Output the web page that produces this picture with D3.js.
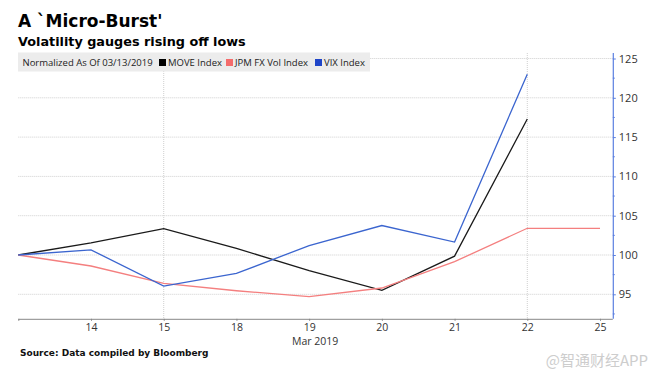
<!DOCTYPE html>
<html><head><meta charset="utf-8">
<script src="https://cdn.jsdelivr.net/npm/d3@7"></script>
<style>body{margin:0;background:#fff}svg{display:block}</style>
</head><body>
<svg id="c" width="657" height="382"></svg>
<script>
const dates = ["13","14","15","18","19","20","21","22","25"];
const moveIdx = [100,101.55,103.35,100.85,98.0,95.5,99.85,117.3,null];
const jpmIdx  = [100,98.6,96.4,95.45,94.7,95.8,99.15,103.4,103.4];
const vixIdx  = [100,100.65,96.05,97.65,101.2,103.75,101.65,123.0,null];
const yTicks = [95,100,105,110,115,120,125];
const weekGrid = ["15","22"];
const series = [
  {name:"MOVE Index", color:"#1a1a1a", key:"#000", values:moveIdx},
  {name:"JPM FX Vol Index", color:"#f47f7f", key:"#f46c6c", values:jpmIdx},
  {name:"VIX Index", color:"#3b65cf", key:"#1f45c8", values:vixIdx}
];

const svg = d3.select("#c");
const L = 18.3, R = 612.8, T = 53, B = 318.8;
const x = d3.scalePoint().domain(dates).range([L, 600]);
const y = d3.scaleLinear().domain([100 - (B-255)/7.86, 100 + (255-T)/7.86]).range([B, T]);

// horizontal grid
svg.append("g").selectAll("line").data(yTicks).join("line")
  .attr("x1", L).attr("x2", R).attr("y1", d=>y(d)).attr("y2", d=>y(d))
  .attr("stroke", "#cfcfcf").attr("stroke-width", 1).attr("stroke-dasharray", "1,1");
// vertical grid
svg.append("g").selectAll("line").data(weekGrid).join("line")
  .attr("x1", d=>x(d)).attr("x2", d=>x(d)).attr("y1", T).attr("y2", B)
  .attr("stroke", "#cfcfcf").attr("stroke-width", 1).attr("stroke-dasharray", "1,1");

// x axis
const xa = svg.append("g").attr("transform", `translate(0,${B})`)
  .call(d3.axisBottom(x).tickSize(2).tickPadding(3).tickFormat(d => d === "13" ? "" : d));
xa.select(".domain").attr("stroke", "#888").attr("d", `M${L},0.5H${R}`);
xa.selectAll(".tick line").attr("stroke", "#888");
xa.selectAll("text").attr("dy", "0.68em").attr("font-family", "Open Sans, sans-serif")
  .attr("font-size", 10.5).attr("fill", "#333");
svg.append("text").attr("x", x("19") + 6).attr("y", 344.5).attr("text-anchor", "middle")
  .attr("font-family", "Open Sans, sans-serif").attr("font-size", 10.5).attr("fill", "#333").text("Mar 2019");

// y axis right
const ya = svg.append("g").attr("transform", `translate(${R},0)`)
  .call(d3.axisRight(y).tickValues(yTicks).tickSize(3).tickPadding(3));
ya.select(".domain").attr("stroke", "#5b7fe0").attr("stroke-width", 1.2).attr("d", `M0.5,${T}V${B}`);
ya.selectAll(".tick line").attr("stroke", "#5b7fe0");
ya.selectAll("text").attr("font-family", "Open Sans, sans-serif").attr("font-size", 11).attr("fill", "#333");
const minor = d3.range(92.5, 126, 5);
svg.append("g").selectAll("line").data(minor).join("line")
  .attr("x1", R).attr("x2", R+2).attr("y1", d=>y(d)).attr("y2", d=>y(d)).attr("stroke", "#5b7fe0");

// lines
const line = d3.line().defined(d => d.v != null).x(d => x(d.d)).y(d => y(d.v));
series.forEach(s => {
  svg.append("path").datum(dates.map((d,i)=>({d, v:s.values[i]})))
    .attr("d", line).attr("fill", "none").attr("stroke", s.color).attr("stroke-width", 1.3)
    .attr("stroke-linejoin", "miter");
});

// legend box
svg.append("rect").attr("x", 18).attr("y", 52.5).attr("width", 352).attr("height", 19).attr("fill", "#ececec");
const lf = "Open Sans, sans-serif";
svg.append("text").attr("x", 22.5).attr("y", 66).attr("font-family", lf).attr("font-size", 9.5).attr("fill", "#222")
  .text("Normalized As Of 03/13/2019");
const legX = [159, 226, 315];
series.forEach((s,i) => {
  svg.append("rect").attr("x", legX[i]).attr("y", 59).attr("width", 7).attr("height", 7).attr("fill", s.key);
  svg.append("text").attr("x", legX[i] + 9).attr("y", 66).attr("font-family", lf).attr("font-size", 9.5).attr("fill", "#222").text(s.name);
});

// titles
svg.append("text").attr("x", 18).attr("y", 27).attr("font-family", "DejaVu Sans, Verdana, sans-serif")
  .attr("font-weight", "bold").attr("font-size", 17).attr("fill", "#000").text("A `Micro-Burst'");
svg.append("text").attr("x", 18).attr("y", 45.5).attr("font-family", "DejaVu Sans, Verdana, sans-serif")
  .attr("font-weight", "bold").attr("font-size", 12.8).attr("fill", "#000").text("Volatility gauges rising off lows");
svg.append("text").attr("x", 20).attr("y", 356).attr("font-family", "DejaVu Sans, Verdana, sans-serif")
  .attr("font-weight", "bold").attr("font-size", 9).attr("fill", "#111").text("Source: Data compiled by Bloomberg");
svg.append("text").attr("x", 648).attr("y", 366).attr("text-anchor", "end").attr("font-family", "Noto Sans CJK SC, sans-serif")
  .attr("font-size", 15).attr("fill", "#cdcdcd").text("@智通财经APP");
</script>
</body></html>
